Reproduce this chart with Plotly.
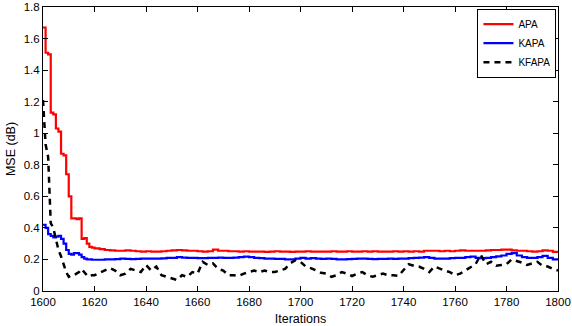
import plotly.graph_objects as go

# Iterations: every iteration 1600-1620, then every 2 iterations to 1800
iter_early = list(range(1600, 1621))
iter_late = list(range(1622, 1801, 2))
iterations = iter_early + iter_late

apa = [
    1.67, 1.51, 1.50, 1.13, 1.12, 1.03, 1.01, 0.87, 0.86, 0.74, 0.60,
    0.46, 0.46, 0.455, 0.46, 0.33, 0.335, 0.30, 0.28, 0.275, 0.27,
    # 1622-1800
    0.265, 0.26, 0.258, 0.255, 0.255, 0.258, 0.255, 0.252, 0.25, 0.252,
    0.25, 0.25, 0.252, 0.255, 0.258, 0.26, 0.258, 0.255, 0.255, 0.252,
    0.25, 0.252, 0.262, 0.255, 0.255, 0.252, 0.252, 0.25, 0.252, 0.25,
    0.25, 0.25, 0.248, 0.25, 0.252, 0.25, 0.25, 0.248, 0.25, 0.25,
    0.252, 0.25, 0.25, 0.25, 0.25, 0.252, 0.25, 0.25, 0.252, 0.25,
    0.25, 0.252, 0.25, 0.252, 0.25, 0.25, 0.25, 0.252, 0.25, 0.252,
    0.25, 0.252, 0.25, 0.255, 0.255, 0.255, 0.252, 0.255, 0.252, 0.255,
    0.258, 0.255, 0.255, 0.255, 0.255, 0.258, 0.26, 0.26, 0.262, 0.262,
    0.258, 0.255, 0.255, 0.252, 0.25, 0.252, 0.258, 0.255, 0.248, 0.245,
]

kapa = [
    0.42, 0.40, 0.36, 0.35, 0.34, 0.345, 0.35, 0.33, 0.30, 0.26, 0.235,
    0.23, 0.24, 0.24, 0.23, 0.215, 0.205, 0.20, 0.20, 0.198, 0.198,
    # 1622-1800
    0.198, 0.2, 0.2, 0.202, 0.205, 0.203, 0.202, 0.203, 0.205, 0.205,
    0.205, 0.205, 0.207, 0.21, 0.21, 0.215, 0.212, 0.21, 0.21, 0.208,
    0.208, 0.21, 0.21, 0.212, 0.21, 0.21, 0.212, 0.215, 0.218, 0.215,
    0.21, 0.208, 0.205, 0.205, 0.203, 0.203, 0.2, 0.2, 0.205, 0.21,
    0.205, 0.208, 0.205, 0.203, 0.205, 0.203, 0.2, 0.2, 0.202, 0.203,
    0.205, 0.205, 0.203, 0.202, 0.203, 0.203, 0.205, 0.203, 0.205, 0.205,
    0.208, 0.21, 0.212, 0.215, 0.21, 0.205, 0.205, 0.205, 0.208, 0.21,
    0.21, 0.215, 0.218, 0.21, 0.208, 0.21, 0.215, 0.22, 0.225, 0.235,
    0.24, 0.225, 0.215, 0.21, 0.21, 0.215, 0.222, 0.21, 0.2, 0.195,
]

kfapa = [
    1.21, 0.93, 0.85, 0.43, 0.40, 0.33, 0.26, 0.22, 0.17, 0.12, 0.09,
    0.10, 0.10, 0.11, 0.12, 0.14, 0.12, 0.10, 0.09, 0.10, 0.10,
    # 1622-1800
    0.115, 0.13, 0.145, 0.13, 0.10, 0.11, 0.14, 0.13, 0.12, 0.165,
    0.13, 0.155, 0.10, 0.09, 0.08, 0.07, 0.10, 0.09, 0.12, 0.11,
    0.185, 0.165, 0.175, 0.14, 0.13, 0.10, 0.10, 0.095, 0.11, 0.12,
    0.13, 0.12, 0.13, 0.12, 0.12, 0.13, 0.14, 0.175, 0.195, 0.185,
    0.155, 0.145, 0.13, 0.115, 0.11, 0.09, 0.10, 0.12, 0.11, 0.095,
    0.11, 0.12, 0.10, 0.09, 0.10, 0.11, 0.10, 0.10, 0.095, 0.13,
    0.17, 0.16, 0.155, 0.14, 0.12, 0.155, 0.14, 0.13, 0.12, 0.10,
    0.11, 0.13, 0.15, 0.17, 0.23, 0.17, 0.185, 0.16, 0.165, 0.17,
    0.20, 0.19, 0.18, 0.165, 0.175, 0.185, 0.16, 0.155, 0.14, 0.13,
]

x_ticks = list(range(1600, 1801, 20))
y_ticks = [0, 0.2, 0.4, 0.6, 0.8, 1, 1.2, 1.4, 1.6, 1.8]
y_tick_labels = ["0", "0.2", "0.4", "0.6", "0.8", "1", "1.2", "1.4", "1.6", "1.8"]

FONT = "Liberation Sans, Arial, sans-serif"

fig = go.Figure()
fig.add_trace(go.Scatter(x=iterations, y=apa, mode="lines", name="APA",
                         line=dict(color="#ff0000", width=2.2, shape="hv")))
fig.add_trace(go.Scatter(x=iterations, y=kapa, mode="lines", name="KAPA",
                         line=dict(color="#0000ff", width=2.2, shape="hv")))
fig.add_trace(go.Scatter(x=iterations, y=kfapa, mode="lines", name="KFAPA",
                         line=dict(color="#000000", width=2.5, dash="6px,5px")))

axis_common = dict(
    showline=True, linecolor="black", linewidth=1, mirror="ticks",
    ticks="inside", ticklen=5, tickcolor="black", showgrid=False, zeroline=False,
    automargin=False,
    tickfont=dict(family=FONT, size=11.5, color="black"),
)

fig.update_layout(
    width=572, height=326,
    margin=dict(l=43, r=14, t=7, b=35),
    paper_bgcolor="white", plot_bgcolor="white",
    font=dict(family=FONT, size=11, color="black"),
    xaxis=dict(range=[1600, 1800], tickvals=x_ticks,
               title=dict(text="Iterations", font=dict(size=12.5), standoff=7),
               **axis_common),
    yaxis=dict(range=[0, 1.8], tickvals=y_ticks, ticktext=y_tick_labels,
               title=dict(text="MSE (dB)", font=dict(size=12.5), standoff=5), **axis_common),
    legend=dict(x=0.997, y=0.994, xanchor="right", yanchor="top",
                bgcolor="white", bordercolor="black", borderwidth=1,
                font=dict(family=FONT, size=10), itemwidth=30, tracegroupgap=0),
    showlegend=True,
)

fig.write_html(
    "out.html",
    config={"displayModeBar": False},
    post_script="document.body.style.margin='0';document.body.style.overflow='hidden';",
)
